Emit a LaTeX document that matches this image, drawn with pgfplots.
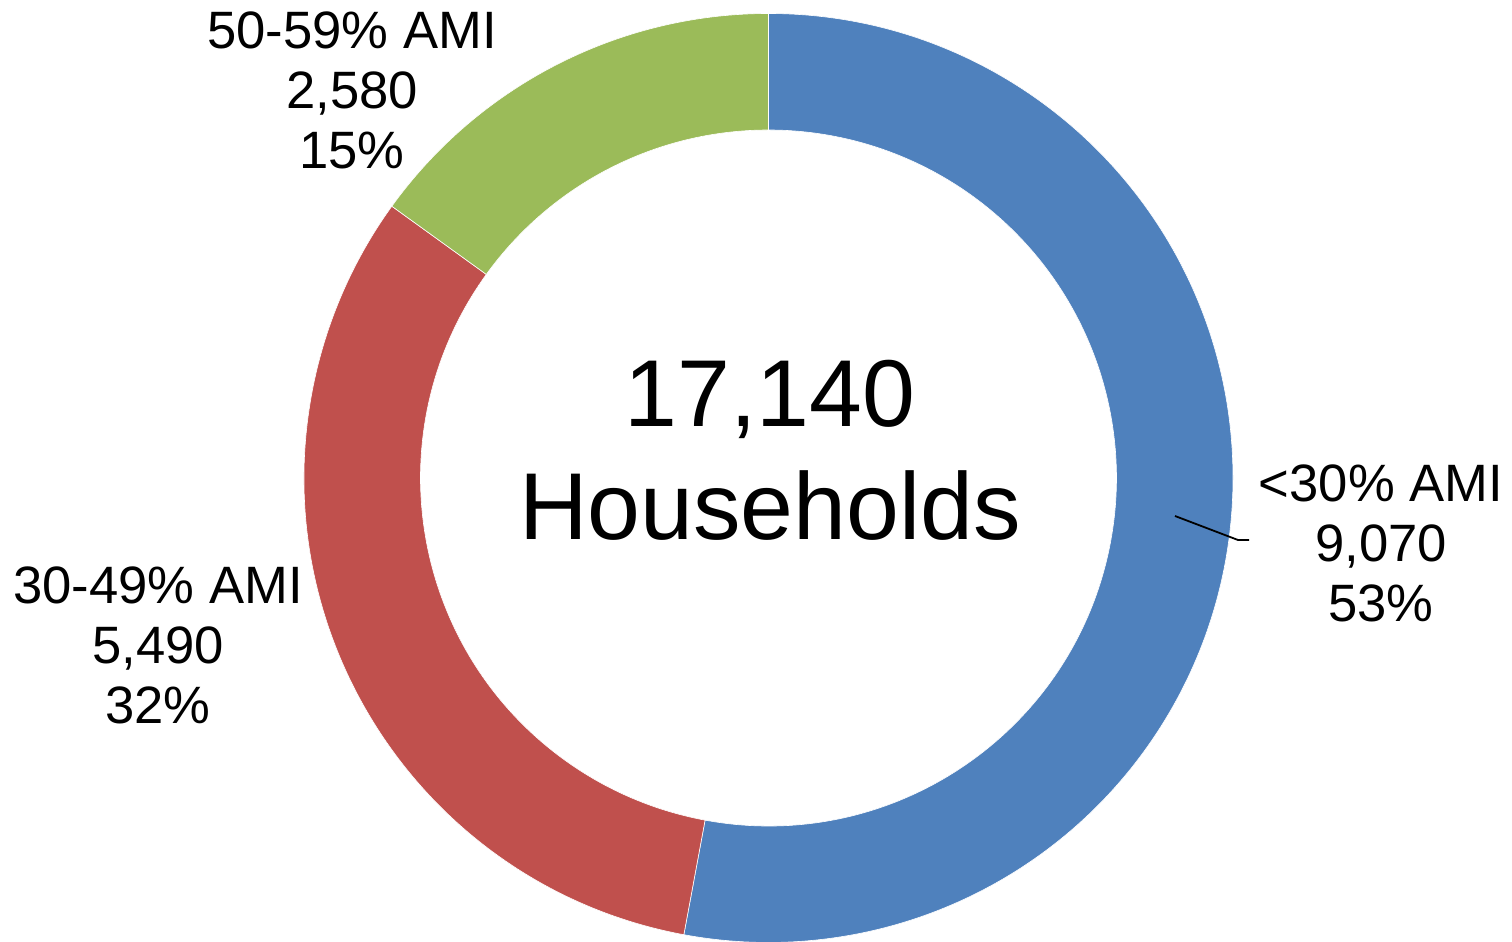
\documentclass[border=0pt]{standalone}
\usepackage{pgfplots}
\pgfplotsset{compat=1.18}
\usepackage{pgfplotstable}
\usepackage{fontspec}
\setmainfont{Liberation Sans}

\definecolor{amiblue}{HTML}{4F81BD}
\definecolor{amired}{HTML}{C0504D}
\definecolor{amigreen}{HTML}{9BBB59}

% households by income band
\pgfplotstableread{
band value
lt30 9070
30to49 5490
50to59 2580
}\households

\pgfplotstablegetelem{0}{value}\of\households \let\va\pgfplotsretval
\pgfplotstablegetelem{1}{value}\of\households \let\vb\pgfplotsretval
\pgfplotstablegetelem{2}{value}\of\households \let\vc\pgfplotsretval
% work in thousands to stay inside TeX's dimension range
\pgfmathsetmacro\total{\va/1000+\vb/1000+\vc/1000}
% slices run clockwise from 12 o'clock
\pgfmathsetmacro\angA{90}
\pgfmathsetmacro\angB{90-360*(\va/1000)/\total}
\pgfmathsetmacro\angC{90-360*(\va/1000+\vb/1000)/\total}
\pgfmathsetmacro\angD{90-360}

\def\cx{768.5}
\def\cy{464}
\def\ro{464.5}
\def\ri{348}

% ring segment in axis units (1 unit = 0.5pt)
\newcommand\ringslice[3]{%
  \fill[#3, draw=white, line width=0.3pt]
    (axis cs:{\cx+\ro*cos(#1)},{\cy+\ro*sin(#1)})
    arc[start angle=#1, end angle=#2, radius=\ro*0.5pt]
    -- (axis cs:{\cx+\ri*cos(#2)},{\cy+\ri*sin(#2)})
    arc[start angle=#2, end angle=#1, radius=\ri*0.5pt]
    -- cycle;}

\begin{document}
\begin{tikzpicture}
\begin{axis}[
    hide axis,
    scale only axis,
    width=756pt, height=471pt,
    xmin=0, xmax=1512, ymin=0, ymax=942,
    clip=false,
]
    \ringslice{\angA}{\angB}{amiblue}
    \ringslice{\angB}{\angC}{amired}
    \ringslice{\angC}{\angD}{amigreen}

    \draw[black, line width=0.9pt] (axis cs:1175,426) -- (axis cs:1238,402) -- (axis cs:1249,402);

    \node[align=center, font=\fontsize{26.3}{30}\selectfont] at (axis cs:1381,399) {<30\% AMI\\9,070\\53\%};
    \node[align=center, font=\fontsize{26.3}{30}\selectfont] at (axis cs:158,297) {30-49\% AMI\\5,490\\32\%};
    \node[align=center, font=\fontsize{26.3}{30}\selectfont] at (axis cs:352,852) {50-59\% AMI\\2,580\\15\%};
    \node[align=center, font=\fontsize{47.5}{56.5}\selectfont] at (axis cs:770,492) {17,140\\Households};
\end{axis}
\pgfresetboundingbox
\useasboundingbox (0,0) rectangle (756pt,471pt);
\end{tikzpicture}
\end{document}
